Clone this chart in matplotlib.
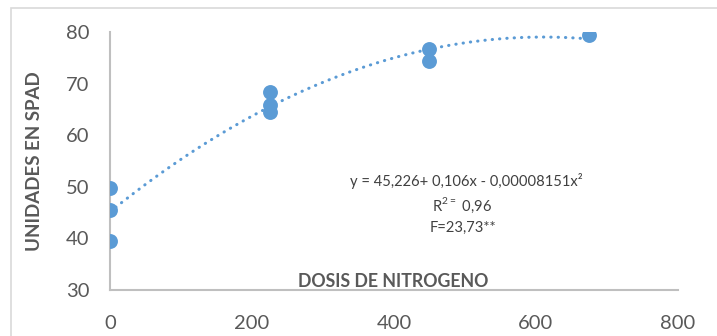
import numpy as np
import matplotlib
matplotlib.use("Agg")
import matplotlib.pyplot as plt
from matplotlib.patches import Rectangle

# data
dosis = [0, 0, 0, 225, 225, 225, 450, 450, 675]
spad = [49.8, 45.5, 39.4, 68.4, 65.9, 64.5, 76.7, 74.4, 79.4]
x_ticks = [0, 200, 400, 600, 800]
y_ticks = [30, 40, 50, 60, 70, 80]
eq_lines = ["y = 45,226+ 0,106x - 0,00008151x²", "R$^{2=}$ 0,96", "F=23,73**"]

blue = "#5B9BD5"
grey = "#595959"

plt.rcParams["font.family"] = ["Lato", "DejaVu Sans"]
plt.rcParams["mathtext.fontset"] = "custom"
plt.rcParams["mathtext.rm"] = "Lato"

fig = plt.figure(figsize=(7.17, 3.36), dpi=100)
ax = fig.add_axes([110 / 717, 46 / 336, 568 / 717, 258 / 336])

# outer chart border
fig.patches.append(Rectangle((11 / 717, -0.1), 1.0, 1.1 - 8 / 336,
                             transform=fig.transFigure, fill=False,
                             edgecolor="#D9D9D9", linewidth=1.2))

# quadratic trendline
coef = np.polyfit(dosis, spad, 2)
xs = np.linspace(0, max(dosis), 200)
ax.plot(xs, np.polyval(coef, xs), color=blue, linewidth=2.2,
        linestyle=(0, (0.1, 2.3)), dash_capstyle="round", zorder=2)

ax.scatter(dosis, spad, s=115, color=blue, zorder=3, linewidths=0)

ax.set_xlim(0, 800)
ax.set_ylim(30, 80)
ax.set_xticks(x_ticks)
ax.set_yticks(y_ticks)
ax.tick_params(axis="x", length=0, pad=18, labelsize=14.5, labelcolor=grey)
ax.tick_params(axis="y", length=0, pad=15, labelsize=14.5, labelcolor=grey)

for s in ["top", "right"]:
    ax.spines[s].set_visible(False)
for s in ["left", "bottom"]:
    ax.spines[s].set_color("#BFBFBF")
    ax.spines[s].set_linewidth(1.5)

ax.set_ylabel("UNIDADES EN SPAD", fontsize=13.5, fontweight="bold", color=grey)
ax.yaxis.set_label_coords(-0.118, 0.5)
ax.set_xlabel("DOSIS DE NITROGENO", fontsize=12.8, fontweight="bold",
              color=grey, va="center")
ax.xaxis.set_label_coords(0.498, 0.032)

eq_pos = [(466, 181), (462, 205), (463, 228)]
for txt, (px, py) in zip(eq_lines, eq_pos):
    fig.text(px / 717, 1 - py / 336, txt, ha="center", va="center",
             fontsize=11.5 * 232 / 252, color="#404040")

fig.savefig("out.png", dpi=100)
